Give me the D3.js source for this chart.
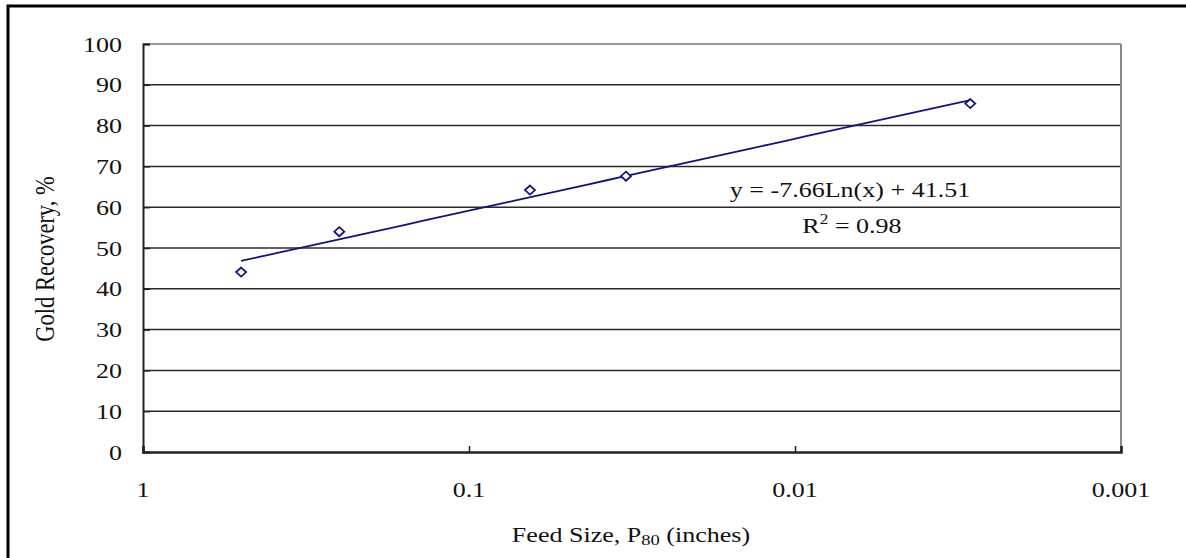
<!DOCTYPE html>
<html>
<head>
<meta charset="utf-8">
<script src="https://cdn.jsdelivr.net/npm/d3@7"></script>
<style>
html,body{margin:0;padding:0;background:#fff;}
svg{display:block;}
text{font-family:"Liberation Serif","Times New Roman",serif;fill:#111;}
</style>
</head>
<body>
<svg id="chart" width="1186" height="558"></svg>
<script>
// ---- data ----
const feedSize = [0.5, 0.25, 0.065, 0.033, 0.0029];
const recovery = [44.1, 54.0, 64.2, 67.6, 85.4];
const trendSlope = -7.66;
const trendIntercept = 41.51;
const xTicks = [1, 0.1, 0.01, 0.001];
const xTickLabels = ["1", "0.1", "0.01", "0.001"];
const yTicks = [0, 10, 20, 30, 40, 50, 60, 70, 80, 90, 100];
const equationText = "y = -7.66Ln(x) + 41.51";
const r2Value = "0.98";

// ---- layout ----
const svg = d3.select("#chart");
const L = 143, R = 1121, T = 44, B = 452;
const SX = 1.24; // horizontal stretch of the reference text
const FS = 21;

const x = d3.scaleLog().domain([1, 0.001]).range([L, R]);
const y = d3.scaleLinear().domain([0, 100]).range([B, T]);

// outer frame
svg.append("rect").attr("x", 8).attr("y", 6).attr("width", 1200).attr("height", 600)
  .attr("fill", "none").attr("stroke", "#000").attr("stroke-width", 3);

// gridlines
svg.append("g").selectAll("line").data(yTicks.filter(d => d > 0)).join("line")
  .attr("x1", L).attr("x2", R).attr("y1", d => y(d)).attr("y2", d => y(d))
  .attr("stroke", d => d === 100 ? "#777" : "#2a2a2a").attr("stroke-width", 1.5);

// right border
svg.append("line").attr("x1", R).attr("x2", R).attr("y1", T).attr("y2", B)
  .attr("stroke", "#888").attr("stroke-width", 2);

// y axis
const yAxis = d3.axisLeft(y).tickValues(yTicks).tickSize(-7).tickFormat("");
const gy = svg.append("g").attr("transform", `translate(${L},0)`).call(yAxis);
gy.select(".domain").attr("stroke", "#222").attr("stroke-width", 2);
gy.selectAll(".tick line").attr("stroke", "#222").attr("stroke-width", 1.5);

// x axis
const xAxis = d3.axisBottom(x).tickValues(xTicks).tickSize(-6).tickFormat("");
const gx = svg.append("g").attr("transform", `translate(0,${B})`).call(xAxis);
gx.select(".domain").attr("stroke", "#222").attr("stroke-width", 2.5);
gx.selectAll(".tick line").attr("stroke", "#222").attr("stroke-width", 1.5);

// stretched text helper
function stext(px, py, str, anchor, rot, fs) {
  const t = svg.append("text")
    .attr("transform", `translate(${px},${py}) scale(${SX},1)` + (rot ? ` rotate(${rot})` : ""))
    .attr("text-anchor", anchor).attr("font-size", fs || FS);
  if (str !== null) t.text(str);
  return t;
}

// y tick labels
yTicks.forEach(v => stext(122, y(v) + 7.5, String(v), "end"));
// x tick labels
xTicks.forEach((v, i) => stext(x(v), 497, xTickLabels[i], "middle"));

// axis titles
const xt = stext(631, 542, null, "middle");
xt.append("tspan").text("Feed Size, P");
xt.append("tspan").attr("font-size", 15).attr("dy", 3).text("80");
xt.append("tspan").attr("dy", -3).text(" (inches)");

stext(54, 259, "Gold Recovery, %", "middle", -90, 22.5);

// trendline
const xs = d3.range(0, 41).map(i => {
  const a = Math.log10(feedSize[0]), b = Math.log10(feedSize[feedSize.length - 1]);
  return Math.pow(10, a + (b - a) * i / 40);
});
const line = d3.line().x(d => x(d)).y(d => y(trendSlope * Math.log(d) + trendIntercept));
svg.append("path").datum(xs).attr("d", line).attr("fill", "none")
  .attr("stroke", "#14147a").attr("stroke-width", 1.8);

// markers (hollow diamonds)
const pts = feedSize.map((f, i) => ({ f, r: recovery[i] }));
svg.append("g").selectAll("path").data(pts).join("path")
  .attr("transform", d => `translate(${x(d.f)},${y(d.r)})`)
  .attr("d", "M0,-4.5 L5,0 L0,4.5 L-5,0 Z")
  .attr("fill", "#fff").attr("stroke", "#14147a").attr("stroke-width", 1.8);

// equation
stext(850, 197, equationText, "middle");
const r2 = stext(852, 233, null, "middle");
r2.append("tspan").text("R");
r2.append("tspan").attr("font-size", 14).attr("dy", -9).text("2");
r2.append("tspan").attr("dy", 9).text(" = " + r2Value);
</script>
</body>
</html>
